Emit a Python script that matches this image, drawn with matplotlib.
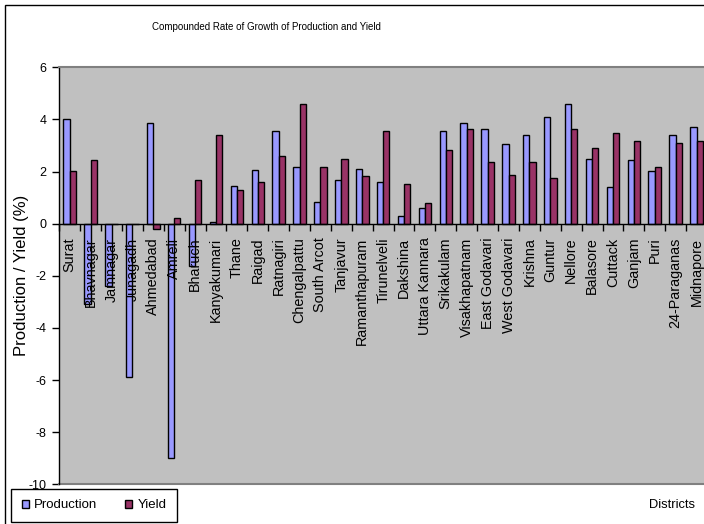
import matplotlib

matplotlib.use("Agg")
import matplotlib.pyplot as plt
from matplotlib.patches import Patch, Rectangle
import numpy as np

plt.rcParams["font.family"] = ["Liberation Sans", "DejaVu Sans"]

districts = [
    "Surat", "Bhavnagar", "Jamnagar", "Junagadh", "Ahmedabad", "Amreli",
    "Bharuch", "Kanyakumari", "Thane", "Raigad", "Ratnagiri", "Chengalpattu",
    "South Arcot", "Tanjavur", "Ramanthapuram", "Tirunelveli", "Dakshina",
    "Uttara Kannara", "Srikakulam", "Visakhapatnam", "East Godavari",
    "West Godavari", "Krishna", "Guntur", "Nellore", "Balasore", "Cuttack",
    "Ganjam", "Puri", "24-Paraganas", "Midnapore",
]
production = [
    4.02, -3.08, -2.40, -5.87, 3.86, -9.00, -1.62, 0.05, 1.46, 2.06, 3.54,
    2.19, 0.83, 1.69, 2.08, 1.58, 0.29, 0.59, 3.54, 3.85, 3.65, 3.05, 3.41,
    4.08, 4.58, 2.49, 1.40, 2.43, 2.01, 3.41, 3.72,
]
yield_ = [
    2.01, 2.45, 0.0, 0.0, -0.19, 0.23, 1.69, 3.41, 1.28, 1.58, 2.61, 4.58,
    2.19, 2.49, 1.82, 3.54, 1.51, 0.78, 2.81, 3.65, 2.37, 1.87, 2.37, 1.76,
    3.65, 2.92, 3.47, 3.16, 2.18, 3.10, 3.16,
]
y_ticks = [-10, -8, -6, -4, -2, 0, 2, 4, 6]

PROD_COLOR = "#9999ff"
YIELD_COLOR = "#993366"
PLOT_BG = "#c0c0c0"

W, H = 704, 524
fig = plt.figure(figsize=(W / 100, H / 100), dpi=100)
fig.patch.set_facecolor("white")

# chart border (runs off the right and bottom edges)
fig.patches.append(
    Rectangle((5 / W, -0.1), 1.1, (H - 5) / H + 0.1, transform=fig.transFigure,
              fill=False, edgecolor="black", linewidth=1.0)
)

left, right, top, bottom = 59.3, 707.0, 67.3, 484.3
ax = fig.add_axes([left / W, (H - bottom) / H, (right - left) / W, (bottom - top) / H])
ax.set_facecolor(PLOT_BG)

x = np.arange(len(districts))
bw = 0.30
ax.bar(x - bw / 2, production, bw, color=PROD_COLOR, edgecolor="black", linewidth=1.0)
ax.bar(x + bw / 2, yield_, bw, color=YIELD_COLOR, edgecolor="black", linewidth=1.0)

ax.set_xlim(-0.5, len(districts) - 0.5)
ax.set_ylim(-10, 6)
ax.set_yticks(y_ticks)
ax.set_yticklabels([str(v) for v in y_ticks], fontsize=9)
ax.tick_params(axis="y", direction="out", length=5, width=1, pad=4)

# category axis sits on the zero line, labels hang below it
ax.spines["bottom"].set_position(("data", 0))
ax.spines["bottom"].set_linewidth(1.0)
ax.set_xticks(np.arange(len(districts) + 1) - 0.5)
ax.set_xticklabels([])
ax.set_xticks(x, minor=True)
ax.set_xticklabels(districts, minor=True, rotation=90, va="top", ha="center",
                   fontsize=10.4)
ax.tick_params(axis="x", which="major", direction="out", length=5, width=1)
ax.tick_params(axis="x", which="minor", length=0, pad=10)

ax.spines["right"].set_visible(False)
ax.spines["top"].set_color("#808080")
ax.spines["top"].set_linewidth(1.5)
ax.spines["left"].set_linewidth(1.0)
ax.plot([0, 1], [0, 0], transform=ax.transAxes, color="#808080",
        linewidth=1.5, clip_on=False)

fig.text(21.5 / W, 1 - 275.5 / H, "Production / Yield (%)", rotation=90,
         ha="center", va="center", fontsize=12)
fig.text(266 / W, 1 - 27 / H, "Compounded Rate of Growth of Production and Yield",
         ha="center", va="center", fontsize=7)
fig.text(672 / W, 1 - 505 / H, "Districts", ha="center", va="center", fontsize=9.3)

handles = [
    Patch(facecolor=PROD_COLOR, edgecolor="black", label="Production"),
    Patch(facecolor=YIELD_COLOR, edgecolor="black", label="Yield"),
]
leg = fig.legend(handles=handles, loc="lower left", bbox_to_anchor=(11 / W, 2 / H),
                 ncol=2, fontsize=9.5, frameon=True, fancybox=False,
                 edgecolor="black", framealpha=1, handlelength=0.55,
                 handleheight=0.55, handletextpad=0.4, columnspacing=2.1,
                 borderpad=0.8, borderaxespad=0)
leg.get_frame().set_linewidth(1.0)

fig.savefig("out.png", dpi=100)
